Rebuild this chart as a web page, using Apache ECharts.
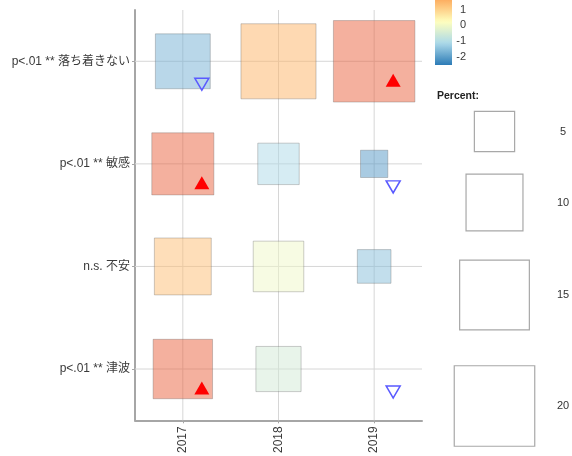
<!DOCTYPE html>
<html><head><meta charset="utf-8">
<script src="https://cdn.jsdelivr.net/npm/echarts@6/dist/echarts.min.js"></script>
<style>html,body{margin:0;padding:0;background:#fff}#c{width:572px;height:456px}</style>
</head><body><div id="c"></div>
<script>
// ---- data ----
const years = ['2017', '2018', '2019'];
const items = ['p<.01 ** 落ち着きない', 'p<.01 ** 敏感', 'n.s. 不安', 'p<.01 ** 津波'];
const pctCalm      = [9.3, 17.4, 20.5];
const pctSensitive = [11.9, 5.3, 2.3];
const pctAnxiety   = [10.0, 7.9, 3.5];
const pctTsunami   = [10.9, 6.3, 0];
const resCalm      = [-1.73, 1.52, 2.3];
const resSensitive = [2.3, -1.1, -2.08];
const resAnxiety   = [1.34, -0.03, -1.54];
const resTsunami   = [2.3, -0.52, -2.0];
const sigCalm      = ['down', '', 'up'];
const sigSensitive = ['up', '', 'down'];
const sigAnxiety   = ['', '', ''];
const sigTsunami   = ['up', '', 'down'];
const legendPercents = [5, 10, 15, 20];
const colorTicks = [-2, -1, 0, 1];

// ---- styling / scales ----
const SIDE_K = 18; // px per sqrt(percent)
const stops = [[-2.5, '#2c7bb6'], [-1.13, '#abd9e9'], [0.23, '#ffffbf'], [1.6, '#fdae61'], [2.97, '#d7191c']];
const BAR_MIN = -2.5, BAR_MAX = 1.6;
const FONT = '"Liberation Sans","Noto Sans CJK JP",sans-serif';

function hex2rgb(h) { return [parseInt(h.substr(1, 2), 16), parseInt(h.substr(3, 2), 16), parseInt(h.substr(5, 2), 16)]; }
function colorAt(v) {
  if (v <= stops[0][0]) return hex2rgb(stops[0][1]);
  for (let i = 1; i < stops.length; i++) {
    if (v <= stops[i][0]) {
      const t = (v - stops[i - 1][0]) / (stops[i][0] - stops[i - 1][0]);
      const a = hex2rgb(stops[i - 1][1]), b = hex2rgb(stops[i][1]);
      return a.map((x, k) => Math.round(x + (b[k] - x) * t));
    }
  }
  return hex2rgb(stops[stops.length - 1][1]);
}

const pctRows = [pctCalm, pctSensitive, pctAnxiety, pctTsunami];
const resRows = [resCalm, resSensitive, resAnxiety, resTsunami];
const sigRows = [sigCalm, sigSensitive, sigAnxiety, sigTsunami];

const cells = [], ups = [], downs = [];
pctRows.forEach((row, r) => row.forEach((p, c) => {
  cells.push([c, r, p, resRows[r][c]]);
  if (sigRows[r][c] === 'up') ups.push([c, r]);
  if (sigRows[r][c] === 'down') downs.push([c, r]);
}));
const gridData = [];
years.forEach((y, i) => gridData.push([i, 0, 0]));
items.forEach((y, i) => gridData.push([0, i, 1]));

// color bar gradient stops
const barStops = [];
for (let i = 0; i <= 20; i++) {
  const v = BAR_MIN + (BAR_MAX - BAR_MIN) * i / 20;
  const c = colorAt(v);
  barStops.push({ offset: i / 20, color: 'rgb(' + c.join(',') + ')' });
}

// legend graphics
const legendCentersY = [131.5, 202.5, 295, 406];
const legendCx = 494.5;
const graphics = [{
  type: 'text', left: 437, top: 91,
  style: { text: 'Percent:', font: 'bold 10.5px ' + FONT, fill: '#222' }
}];
legendPercents.forEach((p, i) => {
  const s = SIDE_K * Math.sqrt(p);
  graphics.push({
    type: 'rect',
    shape: { x: legendCx - s / 2, y: legendCentersY[i] - s / 2, width: s, height: s },
    style: { fill: '#fff', stroke: '#a8a8a8', lineWidth: 1.2 }
  });
  graphics.push({
    type: 'text', x: 563, y: legendCentersY[i],
    style: { text: String(p), font: '11px ' + FONT, fill: '#333', textAlign: 'center', textVerticalAlign: 'middle' }
  });
});

const chart = echarts.init(document.getElementById('c'), null, { renderer: 'canvas' });
chart.setOption({
  animation: false,
  backgroundColor: '#fff',
  textStyle: { fontFamily: FONT },
  grid: [
    { left: 135, right: 150, top: 10, bottom: 34 },
    { left: 435, top: 0, width: 17, height: 65 }
  ],
  xAxis: [
    {
      type: 'category', data: years, gridIndex: 0,
      axisLine: { show: true, lineStyle: { color: '#a6a6a6', width: 2 } },
      axisTick: { show: true, alignWithLabel: true, length: 3, lineStyle: { color: '#a6a6a6' } },
      axisLabel: { rotate: 90, margin: 6, fontSize: 12, color: '#3a3a3a', fontFamily: FONT },
      splitLine: { show: false }
    },
    { type: 'value', gridIndex: 1, min: 0, max: 1, show: false }
  ],
  yAxis: [
    {
      type: 'category', data: items, gridIndex: 0, inverse: true,
      axisLine: { show: true, lineStyle: { color: '#a6a6a6', width: 2 } },
      axisTick: { show: true, alignWithLabel: true, length: 3, lineStyle: { color: '#a6a6a6' } },
      axisLabel: { margin: 5, fontSize: 12, color: '#3a3a3a', fontFamily: FONT },
      splitLine: { show: false }
    },
    {
      type: 'value', gridIndex: 1, min: BAR_MIN, max: BAR_MAX, position: 'right',
      axisLine: { show: false },
      axisTick: { show: true, inside: true, length: 3, customValues: colorTicks, lineStyle: { color: 'rgba(255,255,255,0.7)' } },
      axisLabel: { customValues: colorTicks, align: 'right', margin: 14, fontSize: 11, color: '#3a3a3a', fontFamily: FONT },
      splitLine: { show: false }
    }
  ],
  graphic: graphics,
  series: [
    {
      type: 'custom', xAxisIndex: 0, yAxisIndex: 0, data: gridData, silent: true, z: 1,
      renderItem: function (params, api) {
        const cs = params.coordSys;
        const pt = api.coord([api.value(0), api.value(1)]);
        let shape;
        if (api.value(2) === 0) shape = { x1: pt[0], y1: cs.y, x2: pt[0], y2: cs.y + cs.height };
        else shape = { x1: cs.x, y1: pt[1], x2: cs.x + cs.width, y2: pt[1] };
        return { type: 'line', shape: shape, style: { stroke: '#d6d6d6', lineWidth: 1 } };
      }
    },
    {
      type: 'custom', xAxisIndex: 0, yAxisIndex: 0, data: cells, z: 2,
      renderItem: function (params, api) {
        const p = api.value(2);
        if (!(p > 0)) return null;
        const c = api.coord([api.value(0), api.value(1)]);
        const s = SIDE_K * Math.sqrt(p);
        const col = colorAt(api.value(3));
        return {
          type: 'rect',
          shape: { x: c[0] - s / 2, y: c[1] - s / 2, width: s, height: s },
          style: { fill: 'rgba(' + col.join(',') + ',0.5)', stroke: 'rgba(90,90,90,0.3)', lineWidth: 1 }
        };
      }
    },
    {
      type: 'scatter', xAxisIndex: 0, yAxisIndex: 0, data: ups, z: 3,
      symbol: 'triangle', symbolSize: [15, 13], symbolOffset: [19, 19],
      itemStyle: { color: '#ff0000', opacity: 1 }
    },
    {
      type: 'scatter', xAxisIndex: 0, yAxisIndex: 0, data: downs, z: 3,
      symbol: 'path://M0,0L20,0L10,17.3Z', symbolSize: [14, 12], symbolOffset: [19, 23],
      itemStyle: { color: 'rgba(255,255,255,0)', borderColor: '#5a5aff', borderWidth: 1.5, opacity: 1 }
    },
    {
      type: 'custom', xAxisIndex: 1, yAxisIndex: 1, data: [[0, BAR_MIN, BAR_MAX]], silent: true,
      renderItem: function (params, api) {
        const a = api.coord([0, api.value(1)]);
        const b = api.coord([1, api.value(2)]);
        return {
          type: 'rect',
          shape: { x: a[0], y: b[1], width: b[0] - a[0], height: a[1] - b[1] },
          style: { fill: new echarts.graphic.LinearGradient(0, 1, 0, 0, barStops) }
        };
      }
    }
  ]
});
</script>
</body></html>
